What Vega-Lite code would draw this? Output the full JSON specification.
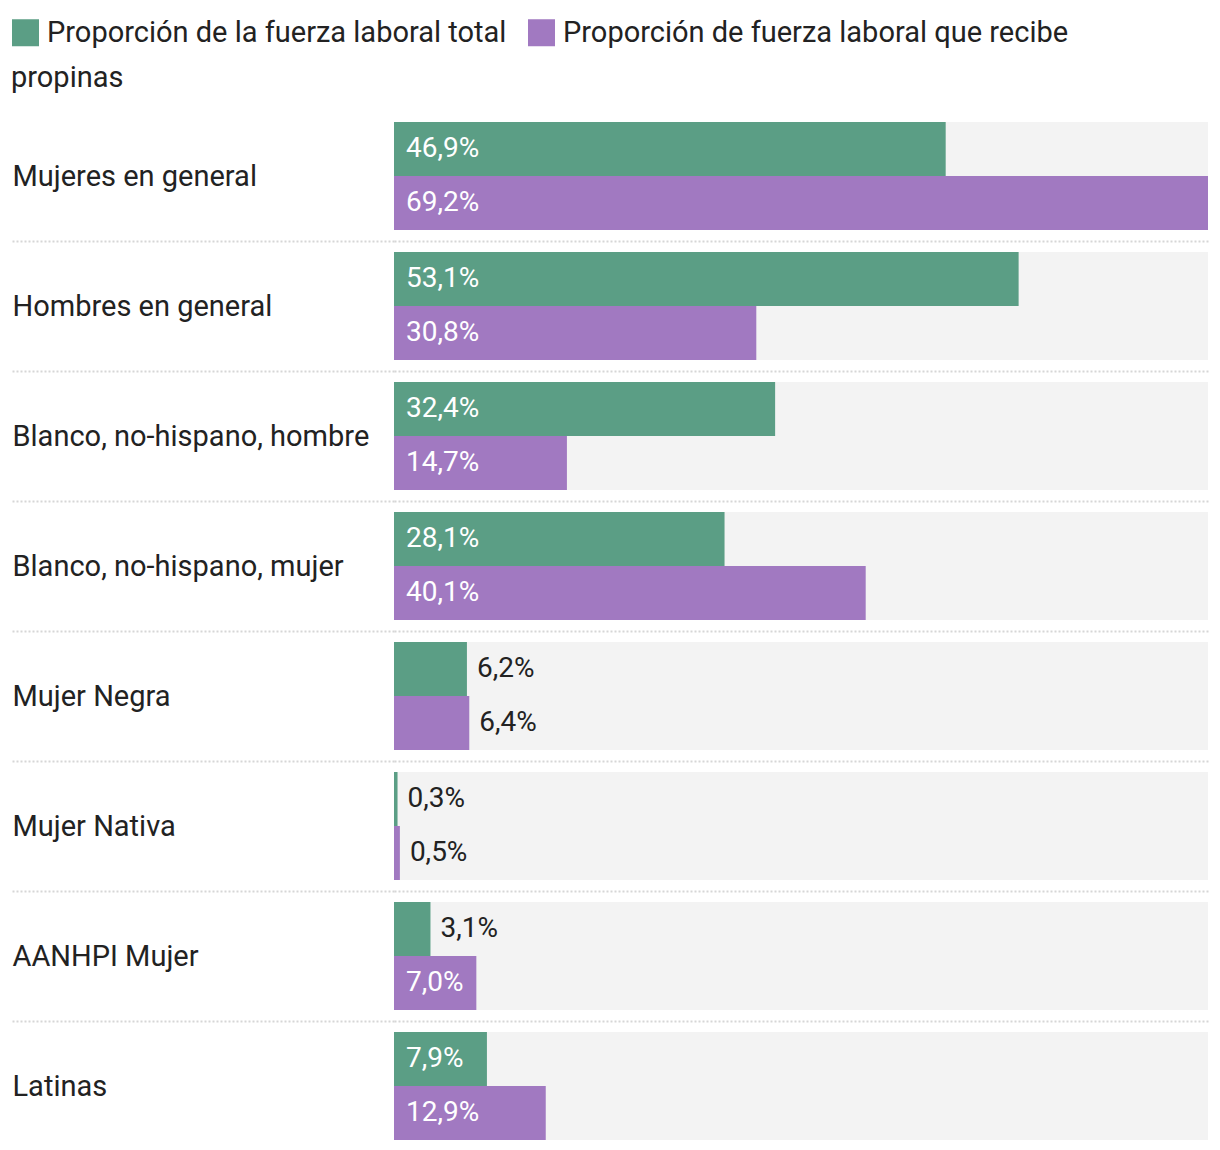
{
  "$schema": "https://vega.github.io/schema/vega-lite/v6.json",
  "width": 814,
  "height": 1040,
  "autosize": {"type": "none"},
  "padding": {"left": 394, "top": 111, "right": 12, "bottom": 0},
  "background": "white",
  "config": {
    "view": {"stroke": null},
    "font": "Roboto",
    "locale": {"number": {"decimal": ",", "thousands": ".", "grouping": [3], "currency": ["", " €"]}}
  },
  "data": {
    "values": [
      {"grupo": "Mujeres en general", "serie": "Proporción de la fuerza laboral total", "valor": 0.469},
      {"grupo": "Mujeres en general", "serie": "Proporción de fuerza laboral que recibe propinas", "valor": 0.692},
      {"grupo": "Hombres en general", "serie": "Proporción de la fuerza laboral total", "valor": 0.531},
      {"grupo": "Hombres en general", "serie": "Proporción de fuerza laboral que recibe propinas", "valor": 0.308},
      {"grupo": "Blanco, no-hispano, hombre", "serie": "Proporción de la fuerza laboral total", "valor": 0.324},
      {"grupo": "Blanco, no-hispano, hombre", "serie": "Proporción de fuerza laboral que recibe propinas", "valor": 0.147},
      {"grupo": "Blanco, no-hispano, mujer", "serie": "Proporción de la fuerza laboral total", "valor": 0.281},
      {"grupo": "Blanco, no-hispano, mujer", "serie": "Proporción de fuerza laboral que recibe propinas", "valor": 0.401},
      {"grupo": "Mujer Negra", "serie": "Proporción de la fuerza laboral total", "valor": 0.062},
      {"grupo": "Mujer Negra", "serie": "Proporción de fuerza laboral que recibe propinas", "valor": 0.064},
      {"grupo": "Mujer Nativa", "serie": "Proporción de la fuerza laboral total", "valor": 0.003},
      {"grupo": "Mujer Nativa", "serie": "Proporción de fuerza laboral que recibe propinas", "valor": 0.005},
      {"grupo": "AANHPI Mujer", "serie": "Proporción de la fuerza laboral total", "valor": 0.031},
      {"grupo": "AANHPI Mujer", "serie": "Proporción de fuerza laboral que recibe propinas", "valor": 0.07},
      {"grupo": "Latinas", "serie": "Proporción de la fuerza laboral total", "valor": 0.079},
      {"grupo": "Latinas", "serie": "Proporción de fuerza laboral que recibe propinas", "valor": 0.129}
    ]
  },
  "encoding": {
    "y": {
      "field": "grupo",
      "type": "nominal",
      "sort": null,
      "scale": {"paddingInner": 0, "paddingOuter": 0},
      "axis": {
        "title": null,
        "domain": false,
        "tickBand": "extent",
        "ticks": true,
        "tickSize": 382,
        "tickColor": "#d6d6d6",
        "tickWidth": 2,
        "tickDash": [2, 2],
        "tickOpacity": {"condition": {"test": "datum.index < 0 || datum.value === 'Latinas'", "value": 0}, "value": 1},
        "grid": true,
        "gridColor": "#d6d6d6",
        "gridWidth": 2,
        "gridDash": [2, 2],
        "gridOpacity": {"condition": {"test": "datum.index < 0 || datum.value === 'Latinas'", "value": 0}, "value": 1},
        "labelAlign": "left",
        "labelPadding": 0,
        "labelFontSize": 29,
        "labelFont": "Roboto",
        "labelColor": "#222222",
        "labelLimit": 0
      }
    },
    "yOffset": {
      "field": "serie",
      "type": "nominal",
      "sort": null,
      "scale": {"paddingInner": 0, "paddingOuter": 0.2037}
    }
  },
  "layer": [
    {
      "mark": {"type": "bar", "color": "#f3f3f3"},
      "encoding": {
        "x": {"datum": 0.692, "type": "quantitative", "scale": {"domain": [0, 0.692], "nice": false, "zero": true}, "axis": null}
      }
    },
    {
      "mark": {"type": "bar"},
      "encoding": {
        "x": {"field": "valor", "type": "quantitative", "axis": null},
        "color": {
          "field": "serie",
          "type": "nominal",
          "sort": null,
          "scale": {
            "domain": ["Proporción de la fuerza laboral total", "Proporción de fuerza laboral que recibe propinas"],
            "range": ["#5b9e85", "#a179c1"]
          },
          "legend": {
            "orient": "none",
            "legendX": -383,
            "legendY": -93,
            "direction": "horizontal",
            "title": "propinas",
            "titleOrient": "bottom",
            "titleAnchor": "start",
            "titleFontSize": 29,
            "titleFontWeight": "normal",
            "titleFont": "Roboto",
            "titleColor": "#222222",
            "titlePadding": 16,
            "labelFontSize": 29,
            "labelFont": "Roboto",
            "labelColor": "#222222",
            "labelLimit": 0,
            "labelOffset": 7,
            "symbolType": "square",
            "symbolSize": 729,
            "symbolOpacity": 1,
            "symbolStrokeWidth": 0,
            "columnPadding": 20,
            "labelExpr": "replace(datum.label, ' propinas', '')"
          }
        }
      }
    },
    {
      "transform": [{"filter": "datum.valor >= 0.07"}],
      "mark": {"type": "text", "align": "left", "baseline": "middle", "dx": 12, "color": "white", "fontSize": 28, "font": "Roboto"},
      "encoding": {
        "x": {"datum": 0, "type": "quantitative"},
        "text": {"field": "valor", "type": "quantitative", "format": ".1%"}
      }
    },
    {
      "transform": [{"filter": "datum.valor < 0.07"}],
      "mark": {"type": "text", "align": "left", "baseline": "middle", "dx": 10, "color": "#222222", "fontSize": 28, "font": "Roboto"},
      "encoding": {
        "x": {"field": "valor", "type": "quantitative"},
        "text": {"field": "valor", "type": "quantitative", "format": ".1%"}
      }
    }
  ]
}
